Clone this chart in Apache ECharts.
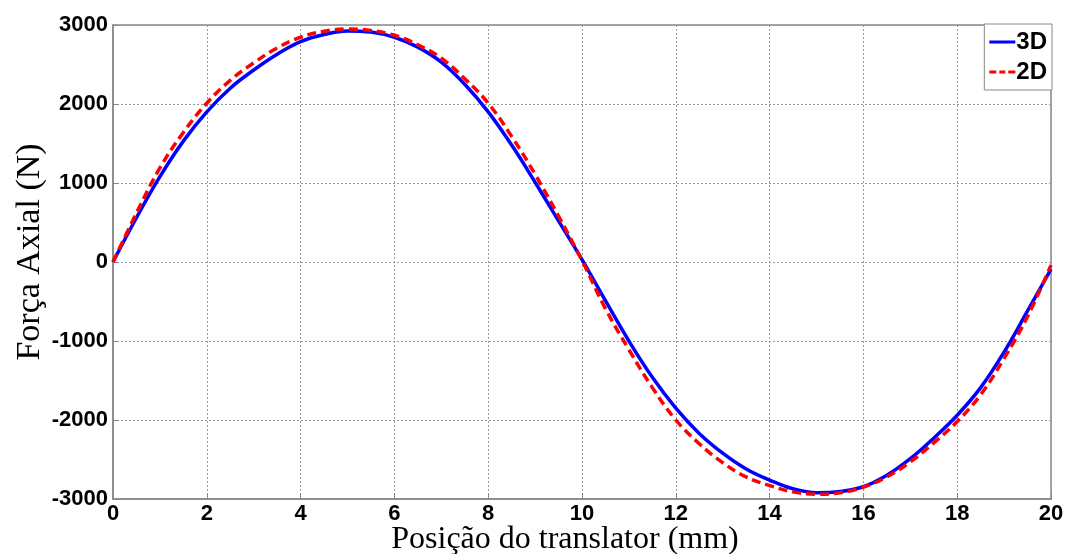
<!DOCTYPE html>
<html>
<head>
<meta charset="utf-8">
<script src="https://cdn.jsdelivr.net/npm/echarts@6/dist/echarts.min.js"></script>
<style>
html,body{margin:0;padding:0;background:#fff;}
#chart{width:1066px;height:554px;}
</style>
</head>
<body>
<div id="chart"></div>
<script>
const positions = [0,0.5,1,1.5,2,2.5,3,3.5,4,4.5,5,5.5,6,6.5,7,7.5,8,8.5,9,9.5,10,10.5,11,11.5,12,12.5,13,13.5,14,14.5,15,15.5,16,16.5,17,17.5,18,18.5,19,19.5,20];
const force3D = [0,560,1080,1530,1900,2200,2430,2630,2790,2880,2925,2910,2845,2720,2530,2250,1900,1480,1010,520,30,-490,-1000,-1460,-1850,-2170,-2420,-2620,-2760,-2870,-2920,-2905,-2845,-2700,-2490,-2230,-1940,-1590,-1140,-620,-90];
const force2D = [0,620,1190,1640,2010,2300,2520,2710,2845,2920,2950,2930,2870,2750,2580,2320,2010,1590,1110,580,20,-590,-1110,-1590,-2000,-2300,-2540,-2720,-2830,-2910,-2940,-2920,-2850,-2720,-2530,-2290,-2020,-1680,-1220,-690,-40];
const seriesNames = ['3D','2D'];
const xTitle = 'Posição do translator (mm)';
const yTitle = 'Força Axial (N)';

const chart = echarts.init(document.getElementById('chart'));
const pair = (ys) => positions.map((x,i)=>[x, ys[i]]);
const labelStyle = {color:'#000', fontFamily:'Liberation Sans, Arial', fontWeight:'bold', fontSize:22};
chart.setOption({
  animation:false,
  backgroundColor:'#fff',
  grid:{left:113, right:15, top:25, bottom:55, outerBoundsMode:'none', containLabel:false, show:true, borderColor:'#888', borderWidth:1.5, backgroundColor:'transparent'},
  graphic:[
    {type:'text', x:565, y:540, style:{text:xTitle, align:'center', verticalAlign:'middle', fill:'#000', font:'32px "Liberation Serif", "Times New Roman", serif'}},
    {type:'text', x:30, y:252, rotation:Math.PI/2, style:{text:yTitle, align:'center', verticalAlign:'middle', fill:'#000', font:'34px "Liberation Serif", "Times New Roman", serif'}}
  ],
  legend:{
    right:14, top:24, orient:'vertical', backgroundColor:'#fff',
    borderColor:'#888', borderWidth:1, padding:[6,5,6,5], itemGap:6,
    itemWidth:26, itemHeight:24,
    textStyle:{color:'#000', fontFamily:'Liberation Sans, Arial', fontWeight:'bold', fontSize:24, padding:[0,0,0,-4]},
    data:[
      {name:seriesNames[0], icon:'path://M0,11H26V14H0Z', itemStyle:{color:'#0000ff'}},
      {name:seriesNames[1], icon:'path://M0,11H7V14H0Z M10,11H16V14H10Z M19,11H26V14H19Z', itemStyle:{color:'#ff0000'}}
    ]
  },
  xAxis:{
    type:'value', min:0, max:20, interval:2,
    axisLine:{show:true, onZero:false, lineStyle:{color:'#888', width:1.5}},
    axisTick:{show:true, inside:true, length:6, lineStyle:{color:'#888'}},
    axisLabel:Object.assign({margin:4}, labelStyle),
    splitLine:{show:true, lineStyle:{color:'#999', type:[2,2], width:1}}
  },
  yAxis:{
    type:'value', min:-3000, max:3000, interval:1000,
    axisLine:{show:true, onZero:false, lineStyle:{color:'#888', width:1.5}},
    axisTick:{show:true, inside:true, length:6, lineStyle:{color:'#888'}},
    axisLabel:Object.assign({margin:5, formatter:(v)=>String(v)}, labelStyle),
    splitLine:{show:true, lineStyle:{color:'#999', type:[2,2], width:1}}
  },
  series:[
    {name:seriesNames[0], type:'line', data:pair(force3D), smooth:0.4, showSymbol:false, symbol:'none',
     lineStyle:{color:'#0000ff', width:3.5}, itemStyle:{color:'#0000ff'}, z:2},
    {name:seriesNames[1], type:'line', data:pair(force2D), smooth:0.4, showSymbol:false, symbol:'none',
     lineStyle:{color:'#ff0000', width:3.5, type:[9,5]}, itemStyle:{color:'#ff0000'}, z:3}
  ]
});
</script>
</body>
</html>
